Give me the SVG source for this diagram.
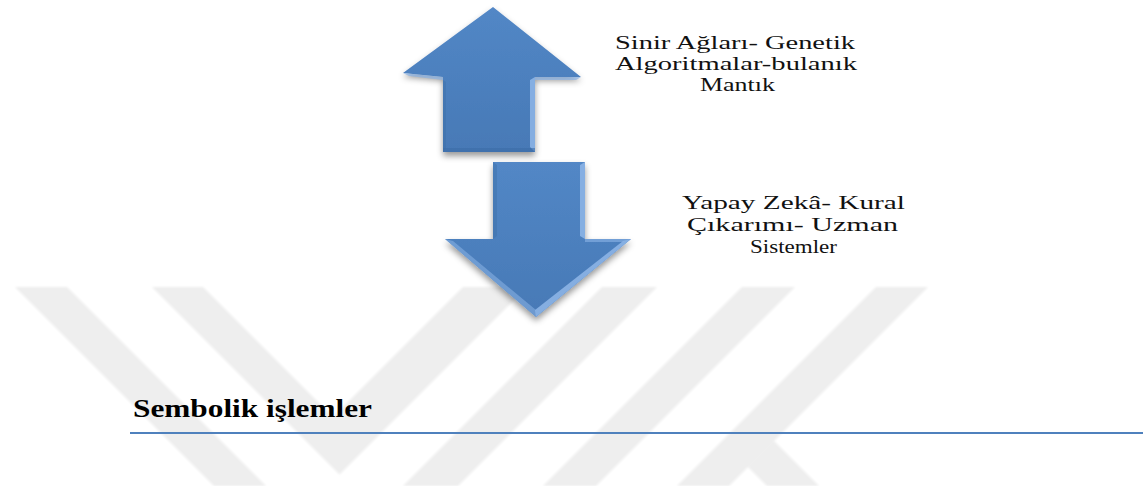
<svg xmlns="http://www.w3.org/2000/svg" width="1143" height="486" viewBox="0 0 1143 486">
<style>
.lbl{font-family:"Liberation Serif","Times New Roman",serif;font-size:19px;fill:#111}
.head{font-family:"Liberation Serif","Times New Roman",serif;font-size:26px;font-weight:bold;fill:#000}
.wm{fill:#eeeeee}
.body{fill:url(#blue)}
.hi{fill:#8cb4e6}
.lo{fill:#3c6da6}
</style>
<defs>
<linearGradient id="blue" x1="0" y1="0" x2="0" y2="1">
<stop offset="0" stop-color="#5287c6"/>
<stop offset="1" stop-color="#4779b6"/>
</linearGradient>
<filter id="shadow" x="-20%" y="-20%" width="140%" height="150%">
<feGaussianBlur in="SourceAlpha" stdDeviation="3"/>
<feOffset dx="0" dy="4" result="b"/>
<feFlood flood-color="#000" flood-opacity="0.4"/>
<feComposite in2="b" operator="in"/>
<feMerge><feMergeNode/><feMergeNode in="SourceGraphic"/></feMerge>
</filter>
<filter id="soft"><feGaussianBlur stdDeviation="1"/></filter>
</defs>
<rect width="1143" height="486" fill="#ffffff"/>
<g id="watermark" filter="url(#soft)">
<polygon class="wm" points="15,287 67,287 266,486 214,486"/>
<polygon class="wm" points="152,287 203,287 333,417 463,287 527,287 339.5,474.5"/>
<polygon class="wm" points="602,287 657,287 458,486 403,486"/>
<polygon class="wm" points="742,287 795,287 596,486 543,486"/>
<polygon class="wm" points="876,287 928,287 729,486 677,486"/>
<polygon class="wm" points="774,441 819,486 767,486 748,467"/>
</g>
<g id="node-up-arrow">
<polygon class="body" filter="url(#shadow)" points="493,7 581,77 535,77 535,152 443,152 443,77 403,73"/>
<polygon class="hi" points="530,80 535,77 535,152 530,147" opacity="0.9"/>
<polygon class="lo" points="443,148 535,148 535,152 443,152" opacity="0.6"/>
<polygon class="hi" points="403,73 443,77 443,80 409,76" opacity="0.7"/>
<polygon class="hi" points="535,77 581,77 576,80 535,80" opacity="0.7"/>
<polygon class="lo" points="443,80 446,82 446,148 443,152" opacity="0.4"/>
</g>
<g id="node-down-arrow">
<polygon class="body" filter="url(#shadow)" points="493,162 585,162 585,239 631,239 536,317 445,239 493,239"/>
<polygon class="hi" points="580,165 585,162 585,239 580,236" opacity="0.9"/>
<polygon class="hi" points="631,239 536,317 535,310 623,241" opacity="0.9"/>
<polygon class="hi" points="445,239 536,317 536,310 453,241" opacity="0.55"/>
<polygon class="lo" points="493,162 497,165 497,236 493,239" opacity="0.4"/>
<polygon class="hi" points="585,239 631,239 623,242 585,242" opacity="0.6"/>
</g>
<g id="node-label-top">
<text class="lbl" x="615" y="49" textLength="240" lengthAdjust="spacingAndGlyphs">Sinir Ağları- Genetik</text>
<text class="lbl" x="615" y="70" textLength="242" lengthAdjust="spacingAndGlyphs">Algoritmalar-bulanık</text>
<text class="lbl" x="700" y="91" textLength="75" lengthAdjust="spacingAndGlyphs">Mantık</text>
</g>
<g id="node-label-bottom">
<text class="lbl" x="682" y="209" textLength="223" lengthAdjust="spacingAndGlyphs">Yapay Zekâ- Kural</text>
<text class="lbl" x="687" y="231" textLength="211" lengthAdjust="spacingAndGlyphs">Çıkarımı- Uzman</text>
<text class="lbl" x="750" y="253" textLength="87" lengthAdjust="spacingAndGlyphs">Sistemler</text>
</g>
<g id="node-heading">
<text class="head" x="133" y="417" textLength="239" lengthAdjust="spacingAndGlyphs">Sembolik işlemler</text>
</g>
<g id="connectors">
<line x1="130" y1="433" x2="1143" y2="433" stroke="#4f81bd" stroke-width="2"/>
</g>
</svg>
